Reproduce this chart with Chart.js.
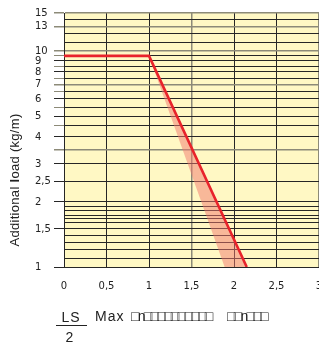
<!DOCTYPE html>
<html>
<head>
<meta charset="utf-8">
<script src="https://cdn.jsdelivr.net/npm/chart.js@4.4.1/dist/chart.umd.min.js"></script>
<style>
  html, body { margin: 0; padding: 0; background: #fff; overflow: hidden; }
  #chart { display: block; }
</style>
</head>
<body>
<canvas id="chart" width="330" height="343"></canvas>
<script>
// data
const yGridValues = [1, 1.1, 1.2, 1.3, 1.4, 1.5, 1.6, 1.67, 1.74, 1.82, 1.9, 2, 2.5, 3, 3.5, 4, 4.5, 5, 5.5, 6, 6.5, 7, 7.5, 8, 8.5, 9, 9.5, 10, 11, 12, 13, 14, 15];
const yLabelValues = [1, 1.5, 2, 2.5, 3, 4, 5, 6, 7, 8, 9, 10, 13, 15];
const yLabels = ["1", "1,5", "2", "2,5", "3", "4", "5", "6", "7", "8", "9", "10", "13", "15"];
const yShortTicks = [3.5, 4.5, 5.5, 6.5, 7.5, 8.5, 9.5];
const yGrayLines = [3.5, 7, 10, 13, 15];

const xTicks = [0, 0.5, 1, 1.5, 2, 2.5, 3];
const xLabels = ["0", "0,5", "1", "1,5", "2", "2,5", "3"];
const xGrayLines = [1.5, 3];

// red limit curve
const limitX = [0, 1, 2.15];
const limitY = [9.5, 9.5, 1];
// pink tolerance band
const bandX = [1, 2.15, 1.89, 1];
const bandY = [9.5, 1, 1, 9.5];

const DARK = "#262626";
const GRAY = "#8c8a78";
const PLOT_BG = "#fff8c4";

const toPoints = (xs, ys) => xs.map((x, i) => ({ x, y: ys[i] }));

const plotBg = {
  id: "plotBg",
  beforeDraw(chart) {
    const a = chart.chartArea;
    const ctx = chart.ctx;
    ctx.save();
    ctx.fillStyle = PLOT_BG;
    ctx.fillRect(a.left, a.top, a.right - a.left, a.bottom - a.top);
    ctx.restore();
  },
};

// axis title + bottom caption
const captions = {
  id: "captions",
  afterDraw(chart) {
    const ctx = chart.ctx;
    const canSpace = "letterSpacing" in ctx;
    ctx.save();
    ctx.fillStyle = "#222";
    ctx.textBaseline = "alphabetic";

    // y title, with the odd bold "l"
    const parts = [
      ["13px 'Liberation Sans', Arial, sans-serif", "Additional "],
      ["bold 13px 'Liberation Sans', Arial, sans-serif", "l"],
      ["13px 'Liberation Sans', Arial, sans-serif", "oad (kg/m)"],
    ];
    if (canSpace) ctx.letterSpacing = "0.3px";
    let total = 0;
    const widths = parts.map(([f, t]) => { ctx.font = f; const w = ctx.measureText(t).width; total += w; return w; });
    ctx.translate(19, 180);
    ctx.rotate(-Math.PI / 2);
    let x = -total / 2;
    parts.forEach(([f, t], i) => { ctx.font = f; ctx.fillText(t, x, 0); x += widths[i]; });
    ctx.setTransform(1, 0, 0, 1, 0, 0);

    // LS / 2 fraction
    ctx.font = "14px 'Liberation Sans', Arial, sans-serif";
    if (canSpace) ctx.letterSpacing = "1px";
    ctx.textAlign = "center";
    ctx.fillText("LS", 71, 322);
    ctx.fillText("2", 70, 342);
    ctx.strokeStyle = "#222";
    ctx.lineWidth = 1;
    ctx.beginPath();
    ctx.moveTo(56, 325.5);
    ctx.lineTo(87, 325.5);
    ctx.stroke();

    ctx.textAlign = "left";
    ctx.fillText("Max", 95, 321);
    ctx.font = "14px 'Liberation Sans', Arial, sans-serif";
    if (canSpace) ctx.letterSpacing = "-1.7px";
    ctx.fillText("\u25A1n\u25A1\u25A1\u25A1\u25A1\u25A1\u25A1\u25A1\u25A1\u25A1\u25A1", 131, 321);
    ctx.fillText("\u25A1\u25A1n\u25A1\u25A1\u25A1", 227, 321);
    ctx.restore();
  },
};

function initChart() {
  const ctx = document.getElementById("chart").getContext("2d");
  return new Chart(ctx, {
    type: "scatter",
    data: {
      datasets: [
        {
          label: "limit",
          data: toPoints(limitX, limitY),
          showLine: true,
          borderColor: "#e8232b",
          borderWidth: 2.6,
          pointRadius: 0,
          pointHoverRadius: 0,
          fill: false,
          order: 0,
        },
        {
          label: "band",
          data: toPoints(bandX, bandY),
          showLine: true,
          borderWidth: 0,
          borderColor: "rgba(0,0,0,0)",
          backgroundColor: "rgba(242, 120, 110, 0.5)",
          pointRadius: 0,
          pointHoverRadius: 0,
          fill: "shape",
          order: 1,
        },
      ],
    },
    options: {
      responsive: false,
      animation: false,
      layout: { autoPadding: false, padding: { left: 35, top: 13, right: 11, bottom: 0 } },
      scales: {
        x: {
          type: "linear",
          min: 0,
          max: 3,
          afterBuildTicks: (s) => { s.ticks = xTicks.map((v) => ({ value: v })); },
          afterFit: (s) => { s.height = 76; s.paddingRight = 0; s.paddingLeft = 0; },
          ticks: {
            autoSkip: false,
            maxRotation: 0,
            padding: 13,
            color: "#222",
            font: { family: "'DejaVu Sans'", size: 10 },
            callback: (v) => { const i = xTicks.indexOf(v); return i >= 0 ? xLabels[i] : ""; },
          },
          grid: {
            drawTicks: false,
            color: (c) => (c.tick && xGrayLines.includes(c.tick.value) ? GRAY : DARK),
            lineWidth: (c) => (c.tick && xGrayLines.includes(c.tick.value) ? 1.5 : 1),
          },
          border: { color: DARK, width: 1 },
        },
        y: {
          type: "logarithmic",
          min: 1,
          max: 15,
          afterBuildTicks: (s) => { s.ticks = yGridValues.map((v) => ({ value: v })); },
          afterFit: (s) => { s.width = 29; },
          ticks: {
            autoSkip: false,
            crossAlign: "far",
            color: "#222",
            font: { family: "'DejaVu Sans'", size: 10 },
            callback: (v) => { const i = yLabelValues.indexOf(v); return i >= 0 ? yLabels[i] : ""; },
          },
          grid: {
            tickLength: 10,
            color: (c) => (c.tick && yGrayLines.includes(c.tick.value) ? GRAY : DARK),
            lineWidth: (c) => (c.tick && yGrayLines.includes(c.tick.value) ? 1.5 : 1),
            tickColor: (c) => {
              const v = c.tick && c.tick.value;
              if (yLabelValues.includes(v)) return yGrayLines.includes(v) ? GRAY : DARK;
              if (yShortTicks.includes(v)) return GRAY;
              return "rgba(0,0,0,0)";
            },
          },
          border: { color: DARK, width: 1 },
        },
      },
      plugins: {
        legend: { display: false },
        tooltip: { enabled: false },
      },
    },
    plugins: [plotBg, captions],
  });
}

window.addEventListener("DOMContentLoaded", initChart);
</script>
</body>
</html>
